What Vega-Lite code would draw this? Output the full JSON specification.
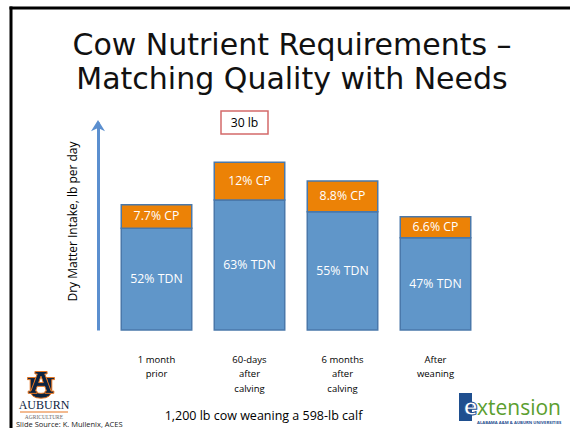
{
  "$schema": "https://vega.github.io/schema/vega-lite/v6.json",
  "width": 372,
  "height": 208,
  "autosize": {"type": "none"},
  "padding": {"left": 110, "top": 122, "right": 88, "bottom": 98},
  "background": "white",
  "config": {"view": {"stroke": null}, "font": "Open Sans"},
  "title": {
    "text": ["Cow Nutrient Requirements –", "Matching Quality with Needs"],
    "font": "DejaVu Sans",
    "fontSize": 30,
    "fontWeight": "normal",
    "color": "#111111",
    "anchor": "middle",
    "frame": "group",
    "lineHeight": 34,
    "dx": -4,
    "dy": 88.5,
    "offset": 0
  },
  "layer": [
    {
      "data": {"values": [{}]},
      "mark": {"type": "rect", "x": -100.5, "x2": -97.5, "y": -115.5, "y2": 330, "fill": "#000000"},
      "encoding": {}
    },
    {
      "data": {"values": [{}]},
      "mark": {"type": "rect", "x": -100.5, "x2": 470, "y": -115.5, "y2": -112.5, "fill": "#000000"},
      "encoding": {}
    },
    {
      "data": {
        "values": [
          {"stage": "1 month|prior", "part": "TDN", "value": 18.2, "label": "52% TDN"},
          {"stage": "1 month|prior", "part": "CP", "value": 4.2, "label": "7.7% CP"},
          {"stage": "60-days|after|calving", "part": "TDN", "value": 23.25, "label": "63% TDN"},
          {"stage": "60-days|after|calving", "part": "CP", "value": 6.75, "label": "12% CP"},
          {"stage": "6 months|after|calving", "part": "TDN", "value": 21.15, "label": "55% TDN"},
          {"stage": "6 months|after|calving", "part": "CP", "value": 5.5, "label": "8.8% CP"},
          {"stage": "After|weaning", "part": "TDN", "value": 16.5, "label": "47% TDN"},
          {"stage": "After|weaning", "part": "CP", "value": 3.75, "label": "6.6% CP"}
        ]
      },
      "transform": [
        {"stack": "value", "groupby": ["stage"], "sort": [{"field": "part", "order": "descending"}], "as": ["y0", "y1"]},
        {"calculate": "(datum.y0 + datum.y1) / 2", "as": "mid"}
      ],
      "layer": [
        {
          "mark": {"type": "bar", "stroke": "#4a78aa", "strokeWidth": 1.5},
          "encoding": {
            "x": {
              "field": "stage",
              "type": "nominal",
              "scale": {
                "domain": ["1 month|prior", "60-days|after|calving", "6 months|after|calving", "After|weaning"],
                "paddingInner": 0.242,
                "paddingOuter": 0.121
              },
              "axis": {
                "orient": "bottom",
                "domain": false,
                "ticks": false,
                "tickSize": 0,
                "labelExpr": "split(datum.label, '|')",
                "labelAngle": 0,
                "labelFont": "Open Sans",
                "labelFontSize": 9.5,
                "labelColor": "#000000",
                "labelLineHeight": 14.5,
                "labelBaseline": "alphabetic",
                "labelPadding": 32,
                "labelOverlap": false,
                "labelBound": false,
                "title": "1,200 lb cow weaning a 598-lb calf",
                "titleFont": "Open Sans",
                "titleFontSize": 12.5,
                "titleFontWeight": "normal",
                "titleColor": "#000000",
                "titleX": 153,
                "titleY": 89,
                "titleAngle": 0,
                "titleAlign": "center",
                "titleBaseline": "alphabetic"
              }
            },
            "y": {
              "field": "y0",
              "type": "quantitative",
              "scale": {"domain": [0, 37.2], "nice": false, "zero": true},
              "axis": {
                "orient": "left",
                "offset": 12,
                "domain": true,
                "domainColor": "#5b8fcf",
                "domainWidth": 3,
                "ticks": false,
                "labels": false,
                "grid": false,
                "title": "Dry Matter Intake, lb per day",
                "titleFont": "Open Sans",
                "titleFontSize": 12,
                "titleFontWeight": "normal",
                "titleColor": "#000000",
                "titleX": -26,
                "titleY": 99,
                "titleAngle": 270,
                "titleAlign": "center",
                "titleBaseline": "middle"
              }
            },
            "y2": {"field": "y1"},
            "color": {
              "field": "part",
              "type": "nominal",
              "scale": {"domain": ["TDN", "CP"], "range": ["#6096c9", "#ec8206"]},
              "legend": null
            }
          }
        },
        {
          "mark": {"type": "text", "color": "#ffffff", "fontSize": 12.3, "font": "Open Sans"},
          "encoding": {
            "x": {"field": "stage", "type": "nominal"},
            "y": {"field": "mid", "type": "quantitative"},
            "text": {"field": "label"}
          }
        }
      ]
    },
    {
      "data": {"values": [{"note": "30 lb"}]},
      "layer": [
        {
          "mark": {"type": "point", "shape": "M-1,-0.49H1V0.49H-1Z", "size": 2209, "filled": true, "fill": "#ffffff", "stroke": "#d46a6a", "strokeWidth": 1.5, "opacity": 1, "xOffset": -5, "yOffset": 0.5},
          "encoding": {
            "x": {"datum": "60-days|after|calving", "type": "nominal"},
            "y": {"datum": 37.2, "type": "quantitative"}
          }
        },
        {
          "mark": {"type": "text", "fontSize": 12.2, "font": "Open Sans", "color": "#000000", "xOffset": -5, "yOffset": 1},
          "encoding": {
            "x": {"datum": "60-days|after|calving", "type": "nominal"},
            "y": {"datum": 37.2, "type": "quantitative"},
            "text": {"field": "note"}
          }
        }
      ]
    },
    {
      "data": {"values": [{}]},
      "mark": {"type": "point", "shape": "M0,-1L1,0.6L0,0.15L-1,0.6Z", "size": 196, "filled": true, "color": "#5b8fcf", "opacity": 1, "xOffset": -58.5, "yOffset": 5},
      "encoding": {
        "x": {"datum": "1 month|prior", "type": "nominal"},
        "y": {"datum": 37.2, "type": "quantitative"}
      }
    },
    {
      "data": {"values": [{}]},
      "mark": {"type": "point", "shape": "M-1,-0.55H-0.3V-0.4H-0.45V0.3Q-0.45,0.62 0,0.62Q0.45,0.62 0.45,0.3V-0.4H0.3V-0.55H1V-0.4H0.8V0.35Q0.8,0.98 0,0.98Q-0.8,0.98 -0.8,0.35V-0.4H-1Z", "size": 729, "filled": true, "fill": "#0c2340", "stroke": "#e87722", "strokeWidth": 1, "opacity": 1, "x": -69, "y": 263},
      "encoding": {}
    },
    {
      "data": {"values": [{}]},
      "mark": {"type": "point", "shape": "M-0.45,-1H0.45V-0.82H0.28L0.75,0.45H0.95V0.62H0.3V0.45H0.4L0.28,0.1H-0.28L-0.4,0.45H-0.3V0.62H-0.95V0.45H-0.75L-0.28,-0.82H-0.45ZM-0.17,-0.18H0.17L0,-0.65Z", "size": 729, "filled": true, "fill": "#0c2340", "stroke": "#e87722", "strokeWidth": 1, "opacity": 1, "x": -69, "y": 263},
      "encoding": {}
    },
    {
      "data": {"values": [{}]},
      "mark": {"type": "text", "text": "AUBURN", "x": -66, "y": 287, "align": "center", "baseline": "alphabetic", "font": "Liberation Serif", "fontSize": 12, "fill": "#0c2340"},
      "encoding": {}
    },
    {
      "data": {"values": [{}]},
      "mark": {"type": "rect", "x": -90, "x2": -42, "y": 289.5, "y2": 290.5, "fill": "#e87722"},
      "encoding": {}
    },
    {
      "data": {"values": [{}]},
      "mark": {"type": "text", "text": "AGRICULTURE", "x": -66, "y": 296.5, "align": "center", "baseline": "alphabetic", "font": "Liberation Serif", "fontSize": 5.5, "fill": "#666666"},
      "encoding": {}
    },
    {
      "data": {"values": [{}]},
      "mark": {"type": "text", "text": "Slide Source: K. Mullenix, ACES", "x": -94, "y": 304.5, "align": "left", "baseline": "alphabetic", "font": "Open Sans", "fontSize": 7.5, "fill": "#222222"},
      "encoding": {}
    },
    {
      "data": {"values": [{}]},
      "mark": {"type": "rect", "x": 349, "x2": 362, "y": 271, "y2": 299, "fill": "#1f4f8f"},
      "encoding": {}
    },
    {
      "data": {"values": [{}]},
      "mark": {"type": "text", "text": "e", "x": 360.5, "y": 293, "align": "center", "baseline": "alphabetic", "font": "Open Sans", "fontWeight": "bold", "fontSize": 24, "fill": "#ffffff", "stroke": "#1f4f8f", "strokeWidth": 1},
      "encoding": {}
    },
    {
      "data": {"values": [{}]},
      "mark": {"type": "text", "text": "xtension", "x": 367, "y": 293, "align": "left", "baseline": "alphabetic", "font": "Open Sans", "fontSize": 21, "fill": "#5b9e2f"},
      "encoding": {}
    },
    {
      "data": {"values": [{}]},
      "mark": {"type": "text", "text": "ALABAMA A&M & AUBURN UNIVERSITIES", "x": 367, "y": 302, "align": "left", "baseline": "alphabetic", "font": "Open Sans", "fontWeight": "bold", "fontSize": 4.2, "fill": "#1f4f8f"},
      "encoding": {}
    }
  ]
}
